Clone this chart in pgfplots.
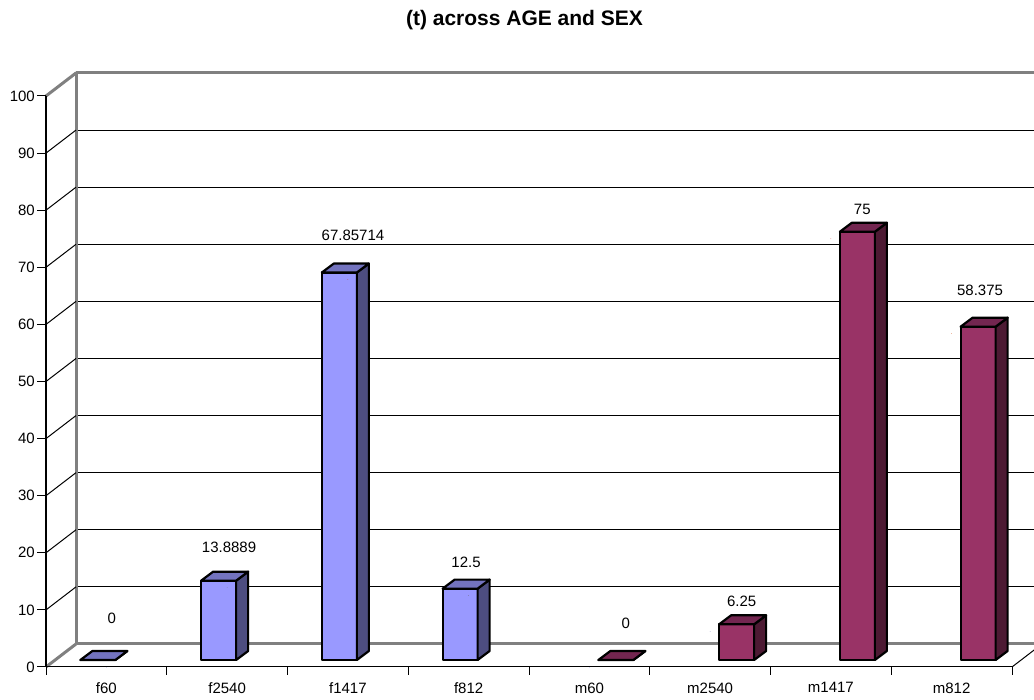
\documentclass[border=0pt]{standalone}
\usepackage{fontspec}
\setmainfont{Liberation Sans}
\usepackage{pgfplots}
\pgfplotsset{compat=1.18}
\usepackage{pgfplotstable}

\definecolor{fFront}{HTML}{9999FF}
\definecolor{fTop}{HTML}{7373BF}
\definecolor{fSide}{HTML}{4D4D80}
\definecolor{mFront}{HTML}{993366}
\definecolor{mTop}{HTML}{732650}
\definecolor{mSide}{HTML}{4D1A33}
\definecolor{wallgray}{HTML}{808080}

\newcommand\labfont{\fontsize{15}{18}\selectfont}

% x: category centre, v: value, lab: printed value,
% lift/dx: offset of the value label from the bar's data point (pt)
\pgfplotstableread{
x   v         lab        lift   dx
0.5 0         0          49     5.3
1.5 13.8889   13.8889    40.7   1.9
2.5 67.85714  67.85714   44.5   5.1
3.5 12.5      12.5       32.9  -2.6
}\female
\pgfplotstableread{
x   v         lab        lift   dx
4.5 0         0          43.7   36.3
5.5 6.25      6.25       29.6   31.6
6.5 75        75         29.7   31.4
7.5 58.375    58.375     43.7   28.4
}\male

% common geometry of the three layers (front plane 966pt x 571pt)
\pgfplotsset{
  plane/.style={
    anchor=south west, scale only axis, width=966pt, height=571pt,
    xmin=0, xmax=8, ymin=0, ymax=100, clip=false,
  },
  % a column drawn as a box from the floor up to its data point:
  % front face, right side face, top face
  % #1 front, #2 top, #3 side colour, #4 left edge of the front face (pt)
  box3d/.style n args={4}{%
    scatter, only marks, mark=*, mark size=0.01pt,
    point meta=y,
    visualization depends on={rawy \as \barval},
    scatter/@pre marker code/.append code={%
      \pgfmathsetmacro\barh{\barval*5.71}%
      \pgfmathsetmacro\bxa{#4}%
      \pgfmathsetmacro\bxb{#4+35}%
      \pgfmathsetmacro\bxc{#4+47}%
      \pgfmathsetmacro\bxd{#4+12}%
      \pgfmathsetmacro\ylo{7-\barh}%
      \pgfmathsetmacro\yblo{16-\barh}%
      \filldraw[fill=#1, draw=black, line width=2.2pt, line join=round]
        (\bxa pt,\ylo pt) rectangle (\bxb pt,7pt);
      \filldraw[fill=#3, draw=black, line width=2.2pt, line join=round]
        (\bxb pt,\ylo pt) -- (\bxc pt,\yblo pt) -- (\bxc pt,16pt) -- (\bxb pt,7pt) -- cycle;
      \filldraw[fill=#2, draw=black, line width=2.2pt, line join=round]
        (\bxa pt,7pt) -- (\bxb pt,7pt) -- (\bxc pt,16pt) -- (\bxd pt,16pt) -- cycle;
    },
  },
  % value labels above the columns
  boxlabels/.style={%
    only marks, mark=none,
    point meta=explicit symbolic,
    visualization depends on={\thisrow{lift} \as \barlift},
    visualization depends on={\thisrow{dx} \as \bardx},
    nodes near coords={\pgfplotspointmeta},
    every node near coord/.append style={anchor=center, inner sep=0pt,
      xshift=\bardx pt, yshift=\barlift pt, font=\labfont, text=black},
  },
}

\begin{document}
\begin{tikzpicture}
\path[use as bounding box] (0,0) rectangle (1034pt,700pt);

% back wall with its gridlines
\begin{axis}[
  plane, at={(76pt,56pt)},
  axis line style={draw=none},
  xtick=\empty,
  ytick={10,20,...,90}, yticklabels={},
  major tick length=0pt, ytick style={draw=none},
  ymajorgrids, major grid style={black, line width=1pt},
]
\draw[wallgray, line width=3pt, line join=round]
  (rel axis cs:1,0) -- (rel axis cs:0,0) -- (rel axis cs:0,1) -- (rel axis cs:1,1);
\end{axis}

% front plane: tick labels and the edges running back to the wall
\begin{axis}[
  plane, at={(46pt,33pt)},
  axis line style={draw=none},
  ytick={0,10,...,100},
  xtick={0.5,1.5,...,7.5},
  xticklabels={f60,f2540,f1417,f812,m60,m2540,m1417,m812},
  tick align=outside,
  major tick length=9pt,
  tick style={draw=none},
  ticklabel style={font=\labfont},
  yticklabel style={inner sep=2pt},
  xticklabel style={yshift=-3pt},
  /pgf/number format/assume math mode=true,
]
\pgfplotsinvokeforeach{10,20,...,90}{
  \draw[black, line width=1pt] (axis cs:0,#1) -- ++(30pt,23pt);
}
\draw[wallgray, line width=3pt] (axis cs:0,0) -- ++(30pt,23pt);
\draw[wallgray, line width=3pt] (axis cs:0,100) -- ++(30pt,23pt);
\draw[black, line width=1pt] (axis cs:8,0) -- ++(30pt,23pt);
\end{axis}

% the columns and their value labels
\begin{axis}[plane, at={(46pt,33pt)}, hide axis, name=cols]
\addplot[box3d={fFront}{fTop}{fSide}{-26}] table[x=x, y=v] {\female};
\addplot[box3d={mFront}{mTop}{mSide}{9}] table[x=x, y=v] {\male};
\addplot[boxlabels] table[x=x, y=v, meta=lab] {\female};
\addplot[boxlabels] table[x=x, y=v, meta=lab] {\male};
\end{axis}

% value axis and category axis lines with their ticks, on top
\foreach \k in {0,...,10}
  \draw[black, line width=1pt] ([yshift=\k*57.1pt]cols.south west) -- ++(-9pt,0pt);
\foreach \k in {0,...,8}
  \draw[black, line width=1pt] ([xshift=\k*120.75pt]cols.south west) -- ++(0pt,-8pt);
\draw[black, line width=1pt] (cols.south west) -- (cols.south east);
\draw[black, line width=2pt] (cols.south west) -- (cols.north west);

\node[font=\fontsize{21}{25}\selectfont\bfseries] at (524.5pt,680pt) {(t) across AGE and SEX};
\end{tikzpicture}
\end{document}
